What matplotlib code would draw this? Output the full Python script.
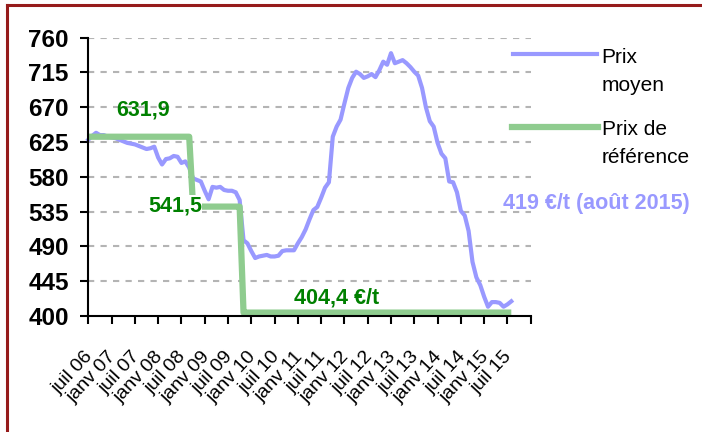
import matplotlib
matplotlib.use("Agg")
import matplotlib.pyplot as plt
import matplotlib.transforms as mtransforms
from matplotlib.lines import Line2D
import numpy as np

plt.rcParams['font.family'] = ['Liberation Sans', 'DejaVu Sans']

# months counted from juil 2006 (0) to août 2015 (109)
prix_moyen = [628, 633, 637, 634, 634, 632, 631, 630, 628, 626,
              624, 623, 622, 620, 618, 616, 617, 619, 605, 596,
              603, 604, 607, 606, 598, 600, 592, 578, 576, 574,
              562, 551, 567, 566, 567, 563, 562, 562, 560, 550,
              498, 494, 484, 475, 477, 478, 479, 477, 477, 478,
              484, 485, 485, 485, 494, 502, 512, 525, 537, 541,
              553, 566, 573, 632, 645, 654, 675, 695, 708, 716,
              713, 708, 710, 713, 709, 718, 729, 725, 740, 727,
              729, 731, 727, 722, 716, 711, 695, 670, 652, 645,
              624, 610, 604, 574, 573, 560, 536, 530, 510, 470,
              450, 440, 425, 412, 418, 418, 417, 412, 415, 419]
prix_ref = [631.9] * 27 + [541.5] * 13 + [404.4] * 70
months = np.arange(len(prix_moyen))

tick_labels = ['juil 06', 'janv 07', 'juil 07', 'janv 08', 'juil 08', 'janv 09',
               'juil 09', 'janv 10', 'juil 10', 'janv 11', 'juil 11', 'janv 12',
               'juil 12', 'janv 13', 'juil 13', 'janv 14', 'juil 14', 'janv 15',
               'juil 15', '']
yticks = [400, 445, 490, 535, 580, 625, 670, 715, 760]

W, H = 702, 432
fig = plt.figure(figsize=(W / 100, H / 100), dpi=100)
ax = fig.add_axes([88.3 / W, 1 - 316 / H, (530.7 - 88.3) / W, (316 - 37.7) / H])

blue = '#9999ff'
green_line = '#8fcc8f'
green_txt = '#008000'

ax.plot(months, prix_moyen, color=blue, lw=3, clip_on=False, zorder=3,
        solid_joinstyle='round')
ax.plot(months, prix_ref, color=green_line, lw=4.5, clip_on=False, zorder=4,
        solid_capstyle='butt')

ax.set_xlim(0, 114)
ax.set_ylim(400, 760)
ax.set_yticks(yticks)
ax.set_yticklabels([str(v) for v in yticks], fontsize=17.5, fontweight='bold')
ax.set_xticks(range(0, 115, 6))
ax.set_xticklabels(tick_labels, rotation=47, ha='right', rotation_mode='anchor',
                   fontsize=14)
ax.tick_params(axis='y', direction='out', length=6, width=1.5, pad=8)
ax.tick_params(axis='x', direction='out', length=6, width=1.5, pad=17)
shift = mtransforms.ScaledTranslation(-4 / 100, 0, fig.dpi_scale_trans)
for lab in ax.get_xticklabels():
    lab.set_transform(lab.get_transform() + shift)

for v in yticks[1:]:
    ax.axhline(v, color='#b4b4b4', lw=1.5, ls=(0, (3, 3)), zorder=1)

for s in ['top', 'right']:
    ax.spines[s].set_visible(False)
for s in ['left', 'bottom']:
    ax.spines[s].set_linewidth(1.5)
    ax.spines[s].set_zorder(5)

ax.text(14.1, 666.4, '631,9', color=green_txt, fontsize=15.5, fontweight='bold',
        ha='center', va='center')
ax.text(22.3, 542.2, '541,5', color=green_txt, fontsize=15.5, fontweight='bold',
        ha='center', va='center', zorder=6,
        bbox=dict(facecolor='white', edgecolor='none', pad=0.5))
ax.text(64.1, 423.5, '404,4 €/t', color=green_txt, fontsize=15.5, fontweight='bold',
        ha='center', va='center')
ax.text(130.8, 545, '419 €/t (août 2015)', color=blue, fontsize=15.5,
        fontweight='bold', ha='center', va='center', clip_on=False)


def fx(x):
    return x / W


def fy(y):
    return 1 - y / H


# legend
fig.add_artist(Line2D([fx(513), fx(597)], [fy(54.3), fy(54.3)], color=blue, lw=3))
fig.add_artist(Line2D([fx(512), fx(598)], [fy(127.3), fy(127.3)], color=green_line, lw=4.5))
for txt, y in [('Prix', 63.3), ('moyen', 91), ('Prix de', 135), ('référence', 162.7)]:
    fig.text(fx(601.7), fy(y), txt, fontsize=15, va='baseline', ha='left')

# chart border (top and left visible)
fig.add_artist(Line2D([fx(7), fx(7)], [fy(5), 0], color='#961b1b', lw=2.2))
fig.add_artist(Line2D([fx(7), 1], [fy(5), fy(5)], color='#961b1b', lw=2.2))

fig.savefig('out.png', dpi=100)
